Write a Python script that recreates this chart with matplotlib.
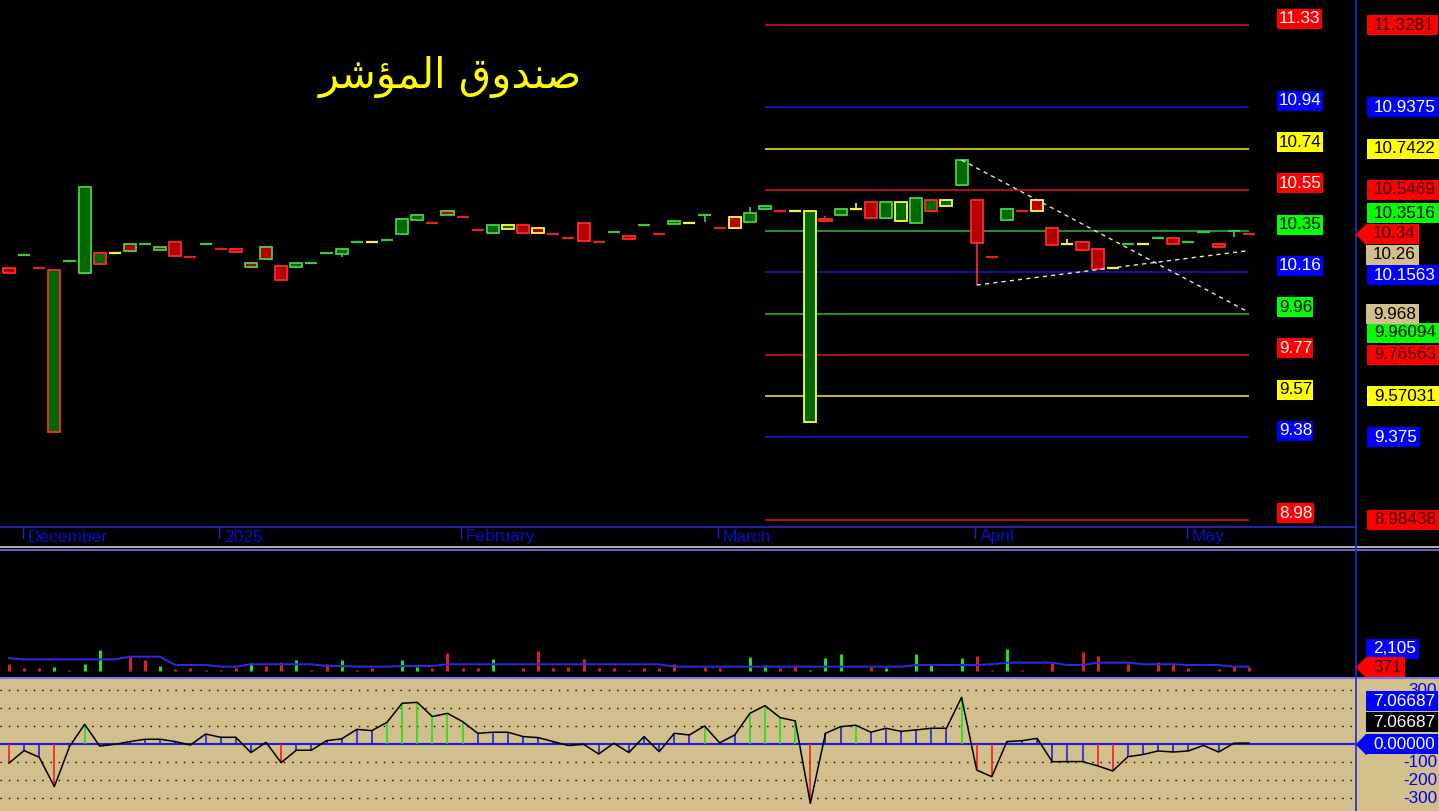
import numpy as np
import matplotlib
matplotlib.use("Agg")
import matplotlib.pyplot as plt
from matplotlib.patches import Rectangle
from matplotlib.path import Path
import matplotlib.transforms as mtransforms
from matplotlib.lines import Line2D

plt.rcParams['font.family'] = ['Liberation Sans', 'DejaVu Sans']

# ---------------- data ----------------
opens = [10.176, 10.238, 10.176, 9.401, 10.211, 10.155, 10.198, 10.247, 10.290, 10.290,
         10.276, 10.301, 10.228, 10.290, 10.266, 10.267, 10.200, 10.276, 10.185, 10.184,
         10.200, 10.247, 10.245, 10.299, 10.299, 10.309, 10.337, 10.406, 10.389, 10.446,
         10.418, 10.356, 10.345, 10.364, 10.381, 10.365, 10.337, 10.318, 10.390, 10.299,
         10.347, 10.328, 10.380, 10.337, 10.387, 10.389, 10.427, 10.365, 10.418, 10.396,
         10.455, 10.446, 10.446, 9.448, 10.411, 10.427, 10.455, 10.490, 10.416, 10.399,
         10.389, 10.446, 10.470, 10.569, 10.500, 10.228, 10.406, 10.446, 10.498, 10.367,
         10.290, 10.301, 10.267, 10.178, 10.290, 10.290, 10.318, 10.318, 10.301, 10.350,
         10.290, 10.353, 10.340]
highs = [10.176, 10.238, 10.176, 10.168, 10.211, 10.560, 10.247, 10.247, 10.290, 10.290,
         10.276, 10.301, 10.228, 10.290, 10.266, 10.267, 10.200, 10.276, 10.185, 10.200,
         10.200, 10.247, 10.266, 10.299, 10.299, 10.309, 10.408, 10.427, 10.389, 10.446,
         10.418, 10.356, 10.380, 10.380, 10.381, 10.365, 10.337, 10.322, 10.390, 10.299,
         10.347, 10.328, 10.380, 10.337, 10.399, 10.389, 10.427, 10.365, 10.418, 10.468,
         10.470, 10.446, 10.446, 10.446, 10.422, 10.455, 10.484, 10.490, 10.490, 10.490,
         10.508, 10.500, 10.500, 10.689, 10.500, 10.228, 10.455, 10.446, 10.498, 10.367,
         10.313, 10.301, 10.267, 10.178, 10.290, 10.290, 10.318, 10.318, 10.301, 10.350,
         10.290, 10.353, 10.340]
lows = [10.155, 10.238, 10.176, 9.401, 10.211, 10.155, 10.198, 10.247, 10.256, 10.290,
        10.264, 10.236, 10.228, 10.290, 10.266, 10.255, 10.184, 10.219, 10.119, 10.184,
        10.200, 10.247, 10.231, 10.299, 10.299, 10.309, 10.337, 10.406, 10.389, 10.427,
        10.418, 10.356, 10.345, 10.364, 10.345, 10.345, 10.337, 10.318, 10.305, 10.299,
        10.347, 10.317, 10.380, 10.337, 10.387, 10.389, 10.394, 10.365, 10.365, 10.396,
        10.455, 10.446, 10.446, 9.448, 10.399, 10.427, 10.455, 10.416, 10.416, 10.399,
        10.389, 10.446, 10.470, 10.569, 10.097, 10.228, 10.406, 10.446, 10.446, 10.288,
        10.290, 10.264, 10.174, 10.178, 10.290, 10.290, 10.318, 10.290, 10.301, 10.350,
        10.279, 10.323, 10.340]
closes = [10.155, 10.238, 10.176, 10.168, 10.211, 10.560, 10.247, 10.247, 10.256, 10.290,
          10.264, 10.236, 10.228, 10.290, 10.266, 10.255, 10.184, 10.219, 10.119, 10.200,
          10.200, 10.247, 10.266, 10.299, 10.299, 10.309, 10.408, 10.427, 10.389, 10.427,
          10.418, 10.356, 10.380, 10.380, 10.345, 10.345, 10.337, 10.318, 10.305, 10.299,
          10.347, 10.317, 10.380, 10.337, 10.399, 10.389, 10.427, 10.365, 10.365, 10.436,
          10.470, 10.446, 10.446, 10.446, 10.399, 10.455, 10.455, 10.416, 10.490, 10.490,
          10.508, 10.500, 10.500, 10.689, 10.297, 10.228, 10.455, 10.446, 10.446, 10.288,
          10.290, 10.264, 10.174, 10.178, 10.290, 10.290, 10.318, 10.290, 10.301, 10.350,
          10.279, 10.353, 10.340]
# per-bar signal state (u = up, d = down, n = neutral)
signal = list("dudduudnuu" "uddudduudu" "uuuunuuudu" "ddundndddd" "ududunudnu"
              "udnndundun" "udnuddudnd" "nddnunuduu" "dud")

volume = [640, 315, 315, 410, 95, 665, 2000, 0, 1455, 1015,
          505, 190, 315, 95, 95, 315, 790, 505, 885, 1045,
          95, 640, 1045, 95, 315, 0, 1045, 410, 315, 1680,
          315, 315, 1170, 0, 315, 1900, 315, 410, 1110, 315,
          315, 95, 315, 315, 640, 0, 410, 285, 0, 1360,
          570, 315, 570, 95, 1205, 1615, 0, 410, 315, 0,
          1615, 665, 0, 1265, 1455, 95, 2090, 95, 0, 790,
          0, 1835, 1455, 0, 640, 0, 885, 730, 315, 0,
          190, 505, 371]
vol_dir = list("rrrgrggrrr" "grrrrrgrrg" "rrgrrrggrr" "rrgrrrrrrr" "rrrrrrrrrg"
               "grrgggrrgr" "ggrgrrgrrr" "rrrrrrrrrr" "rrr")
vol_avg = [1205, 1110, 1110, 1110, 1110, 1110, 1110, 1110, 1360, 1360,
           1360, 570, 570, 570, 410, 410, 640, 640, 640, 640,
           640, 475, 475, 410, 410, 410, 475, 475, 475, 640,
           640, 640, 640, 640, 640, 640, 640, 640, 640, 640,
           640, 640, 640, 640, 410, 410, 410, 410, 410, 410,
           410, 410, 410, 410, 410, 410, 410, 410, 410, 410,
           570, 570, 570, 570, 570, 640, 790, 790, 790, 790,
           570, 570, 790, 790, 790, 640, 640, 640, 570, 570,
           570, 410, 410]
vol_mark = 2105

osc = [-104, -35, -72, -235, -13, 111, -10, 0, 15, 28,
       28, 15, -4, 57, 39, 39, -46, 11, -102, -33,
       -33, 20, 30, 83, 76, 122, 228, 233, 154, 172,
       126, 61, 67, 67, 43, 37, 15, -7, 0, -54,
       6, -46, 43, -41, 61, 52, 102, 8, 52, 172,
       215, 148, 130, -328, 61, 98, 106, 67, 89, 72,
       80, 89, 89, 261, -143, -180, 15, 20, 33, -97,
       -96, -96, -120, -148, -69, -57, -37, -43, -37, -6,
       -43, 6, 7.06687]
osc_ticks = [300, -100, -200, -300]

levels = [11.3281, 10.9375, 10.7422, 10.5469, 10.3516, 10.1563, 9.96094,
          9.76563, 9.57031, 9.375, 8.98438]
level_kind = ['r', 'b', 'y', 'r', 'g', 'b', 'g', 'r', 'y', 'b', 'r']
level_start, level_end = 50, 82

trend1_x, trend1_y = [63, 82], [10.689, 9.968]
trend2_x, trend2_y = [64, 82], [10.097, 10.26]

month_labels = ['December', '2025', 'February', 'March', 'April', 'May']
month_pos = [1, 14, 30, 47, 64, 78]

title_text = '\uFEAE\uFEB7\uFE86\uFEE4\uFEDF\uFE8D \uFED5\uFEED\uFEAA\uFEE8\uFEBB'  # صندوق المؤشر

# ---------------- style ----------------
W, H = 1439, 811
RIGHT = 1355
TAN = '#d2bf8b'
LINE_C = {'r': '#e01515', 'b': '#1a1ad2', 'y': '#f0f030', 'g': '#28c028'}
BOX_C = {'r': '#ff0000', 'b': '#0000ff', 'y': '#ffff00', 'g': '#00ff00', 't': TAN, 'k': '#000000'}
TXT_L = {'r': 'white', 'b': 'white', 'y': 'black', 'g': 'black'}
TXT_R = {'r': '#3a0000', 'b': 'white', 'y': 'black', 'g': 'black'}
EDGE = {'u': '#48d048', 'd': '#ff2b2b', 'n': '#ffff3c'}
FLAT = {'u': '#3cc83c', 'd': '#e52020', 'n': '#f5f53c'}
UPBODY, DNBODY = '#006800', '#b50000'
FS = 12.3

fig = plt.figure(figsize=(W / 100, H / 100), dpi=100, facecolor='black')


def rect(x0, y0, x1, y1):
    return [x0 / W, 1 - y1 / H, (x1 - x0) / W, (y1 - y0) / H]


fig.patches.append(Rectangle((0, 0), 1, (H - 679) / H, transform=fig.transFigure,
                             color=TAN, zorder=-10))

ax_p = fig.add_axes(rect(0, 0, RIGHT, 526))
ax_v = fig.add_axes(rect(0, 550, RIGHT, 677))
ax_o = fig.add_axes(rect(0, 680, RIGHT, 811))
xl = (-9 / 15.12, (RIGHT - 9) / 15.12)
for ax in (ax_p, ax_v, ax_o):
    ax.set_xlim(*xl)
    ax.axis('off')

ax_p.set_ylim(8.98438 - 6 * 0.0047348, 11.3281 + 25 * 0.0047348)
ax_v.set_ylim(-570, 11495)
ax_o.set_ylim(-370.6, 357.2)

# ---------------- price panel ----------------
hw = 0.4
for i, (o, h, l, c, s) in enumerate(zip(opens, highs, lows, closes, signal)):
    top, bot = max(o, c), min(o, c)
    if h > top:
        ax_p.vlines(i, top, h, color=EDGE[s], lw=1.2, zorder=2)
    if l < bot:
        ax_p.vlines(i, l, bot, color=EDGE[s], lw=1.2, zorder=2)
    if o == c:
        ax_p.hlines(o, i - hw, i + hw, color=FLAT[s], lw=1.6, zorder=3)
    else:
        ax_p.add_patch(Rectangle((i - hw, bot), 2 * hw, top - bot,
                                 facecolor=UPBODY if c > o else DNBODY,
                                 edgecolor=EDGE[s], lw=1.3, zorder=3))

ax_p.hlines(levels, level_start, level_end, colors=[LINE_C[k] for k in level_kind],
            lw=1.1, zorder=1)
ax_p.plot(trend1_x, trend1_y, color='#e8e8c8', lw=1, ls=(0, (3, 3)), zorder=4)
ax_p.plot(trend2_x, trend2_y, color='#e8e8c8', lw=1, ls=(0, (3, 3)), zorder=4)

ax_p.text(450 / RIGHT, 1 - 77 / 526, title_text, transform=ax_p.transAxes,
          family=['DejaVu Sans'], color='#ffff00', fontsize=30, ha='center', va='center')

arrow_marker = Path([(-0.5, 0), (0.5, 1), (0.5, -1), (-0.5, 0)],
                    [Path.MOVETO, Path.LINETO, Path.LINETO, Path.CLOSEPOLY])


def make_box(lpad, rpad, vpad=2.5):
    def box(x0, y0, width, height, mutation_size):
        xa, xb = x0 - lpad, x0 + width + rpad
        ya, yb = y0 - vpad, y0 + height + vpad
        return Path([(xa, ya), (xb, ya), (xb, yb), (xa, yb), (xa, ya)], closed=True)
    return box


BOX_LEFT = make_box(2, 1)
BOX_RIGHT = make_box(7, 3)


def label(ax, xpx, y, text, fc, tc, dy_px=0, size=FS, arrow=False, box=BOX_RIGHT):
    tr = mtransforms.blended_transform_factory(ax.transAxes, ax.transData)
    ax.annotate(text, xy=(xpx / RIGHT, y), xycoords=tr, xytext=(0, -dy_px * 0.72),
                textcoords='offset points', ha='left', va='center', color=tc,
                fontsize=size, annotation_clip=False, zorder=10,
                bbox=dict(boxstyle=box, fc=fc, ec='none'))
    if arrow:
        ax.plot([1360.5 / RIGHT], [y], marker=arrow_marker, ms=14.0, color=fc, mec=fc,
                transform=tr, clip_on=False, zorder=10)


right_shift = {4: -18, 5: 3, 6: 19}
for k, (lv, kind) in enumerate(zip(levels, level_kind)):
    label(ax_p, 1279, lv, f"{lv:.2f}", BOX_C[kind], TXT_L[kind], dy_px=-6.5, box=BOX_LEFT)
    label(ax_p, 1374, lv, f"{lv:.6g}", BOX_C[kind], TXT_R[kind], dy_px=right_shift.get(k, 0))

label(ax_p, 1373, closes[-1], f"{closes[-1]:.2f}", BOX_C['r'], '#3a0000', arrow=True)
label(ax_p, 1373, trend2_y[-1], f"{trend2_y[-1]:.2f}", BOX_C['t'], 'black', dy_px=4)
label(ax_p, 1373, trend1_y[-1], f"{trend1_y[-1]:.3f}", BOX_C['t'], 'black', dy_px=2)

# month axis
trx = mtransforms.blended_transform_factory(ax_p.transData, ax_p.transAxes)
for m, lab in zip(month_pos, month_labels):
    ax_p.plot([m - 0.1, m - 0.1], [-1 / 526, -12 / 526], color='#2020c8', lw=1,
              transform=trx, clip_on=False)
    ax_p.text(m + 0.2, -11 / 526, lab, transform=trx, color='#0c0cd4', fontsize=12.5,
              ha='left', va='center', clip_on=False)

# ---------------- volume panel ----------------
idx = np.arange(len(volume))
ax_v.vlines(idx, 0, volume, colors=['#25dd25' if d == 'g' else '#e02020' for d in vol_dir],
            lw=2.2, zorder=2)
ax_v.plot(idx, vol_avg, color='#2a2ad6', lw=1.5, zorder=3)
label(ax_v, 1373, vol_mark, f"{vol_mark:,}", BOX_C['b'], 'white')
label(ax_v, 1373, volume[-1], f"{volume[-1]:,}", BOX_C['r'], '#3a0000', arrow=True)

# ---------------- oscillator panel ----------------
for g in (300, 200, 100, -100, -200, -300):
    ax_o.axhline(g, color='black', lw=1, ls=(0, (1, 5)), zorder=1)
ax_o.axhline(0, color='#1a1ad8', lw=1.5, zorder=2)
stem_c = ['#22dd22' if v > 100 else ('#ee2020' if v < -100 else '#2020dd') for v in osc]
ax_o.vlines(idx, 0, osc, colors=stem_c, lw=1.2, zorder=3)
ax_o.plot(idx, osc, color='black', lw=1.1, zorder=4)

tro = mtransforms.blended_transform_factory(ax_o.transAxes, ax_o.transData)
for t in osc_ticks:
    ax_o.text(1437 / RIGHT, t, f"{t}", transform=tro, color='#0000ee', fontsize=FS,
              ha='right', va='center', clip_on=False, zorder=5)
label(ax_o, 1373, osc[-1], f"{osc[-1]:.5f}", BOX_C['b'], 'white', dy_px=-42)
label(ax_o, 1373, osc[-1], f"{osc[-1]:.5f}", BOX_C['k'], 'white', dy_px=-21)
label(ax_o, 1373, 0, f"{0:.5f}", BOX_C['b'], 'white', arrow=True)

# ---------------- frame lines ----------------
def hline_px(y, x0, x1, color, lw=1.2):
    fig.add_artist(Line2D([x0 / W, x1 / W], [1 - y / H, 1 - y / H], transform=fig.transFigure,
                          color=color, lw=lw, zorder=20))


hline_px(526.5, 0, RIGHT, '#2a2ad0')
hline_px(547.0, 0, W, '#d8d0c0')
hline_px(549.5, 0, W, '#7878f0')
hline_px(678.0, 0, W, '#7878f0', lw=1.5)
fig.add_artist(Line2D([(RIGHT + 0.5) / W] * 2, [0, 1], transform=fig.transFigure,
                      color='#2a2ad0', lw=1.2, zorder=20))

fig.savefig('out.png', dpi=100, facecolor='black')
